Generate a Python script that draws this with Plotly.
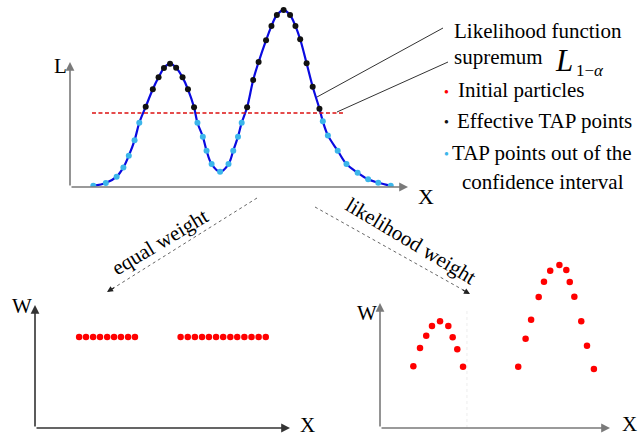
import plotly.graph_objects as go

W_PX, H_PX = 641, 439
FONT = "Liberation Serif"

# ---- likelihood curve samples (X, L) ----
tap_x = [0.69, 1.06, 1.38, 1.58, 1.74, 1.91, 2.05,
         2.24, 2.45, 2.62, 2.78, 2.96, 3.14, 3.33, 3.49, 3.67,
         3.77, 3.93, 4.04, 4.19, 4.44, 4.69, 4.83, 4.97, 5.08,
         5.24, 5.42, 5.58, 5.80, 5.96, 6.12, 6.32, 6.51, 6.67, 6.81, 7.00, 7.18, 7.38,
         7.48, 7.63, 7.92, 8.18, 8.51, 8.82, 9.12, 9.49]
tap_l = [0.007, 0.022, 0.058, 0.110, 0.176, 0.262, 0.361,
         0.451, 0.549, 0.616, 0.669, 0.693, 0.670, 0.616, 0.549, 0.448,
         0.361, 0.283, 0.204, 0.129, 0.086, 0.129, 0.204, 0.283, 0.361,
         0.448, 0.601, 0.702, 0.824, 0.904, 0.966, 0.994, 0.966, 0.904, 0.830, 0.695, 0.563, 0.440,
         0.369, 0.290, 0.204, 0.129, 0.080, 0.043, 0.024, 0.007]

# confidence threshold L_{1-alpha} and its drawn extent
l_sup = 0.416
sup_x = [0.65, 8.08]

# ---- equal-weight particles (X, W) ----
eq_x = [1.73, 2.00, 2.28, 2.55, 2.83, 3.10, 3.37, 3.65, 3.92,
        5.71, 5.99, 6.27, 6.55, 6.82, 7.10, 7.38, 7.66, 7.93, 8.21, 8.49, 8.77, 9.05]
eq_w = [0.74] * len(eq_x)

# ---- likelihood-weighted particles (X, W) ----
lw_x = [1.45, 1.74, 2.01, 2.26, 2.61, 2.97, 3.16, 3.36, 3.61,
        6.01, 6.33, 6.57, 6.90, 7.13, 7.40, 7.80, 8.10, 8.25, 8.45, 8.75, 9.00, 9.30]
lw_w = [0.494, 0.640, 0.738, 0.816, 0.854, 0.816, 0.726, 0.630, 0.490,
        0.490, 0.714, 0.866, 1.048, 1.170, 1.258, 1.304, 1.264, 1.168, 1.050, 0.854, 0.658, 0.472]

legend_labels = ["Initial particles", "Effective TAP points", "TAP points out of the"]

RED, BLACK, CYAN, BLUE = "#ff0000", "#111111", "#3cb6ea", "#0a0ae0"


def px(x):
    return x / W_PX


def py(y):
    return 1 - y / H_PX


eff_x = [x for x, l in zip(tap_x, tap_l) if l >= l_sup]
eff_l = [l for l in tap_l if l >= l_sup]
out_x = [x for x, l in zip(tap_x, tap_l) if l < l_sup]
out_l = [l for l in tap_l if l < l_sup]

fig = go.Figure()

# top panel: likelihood function
fig.add_trace(go.Scatter(x=tap_x, y=tap_l, mode="lines",
                         line=dict(color=BLUE, width=2.2, shape="spline", smoothing=1.0),
                         xaxis="x", yaxis="y", hoverinfo="skip"))
fig.add_trace(go.Scatter(x=sup_x, y=[l_sup, l_sup], mode="lines",
                         line=dict(color="#dd1111", width=1.6, dash="4px,2.5px"),
                         xaxis="x", yaxis="y", hoverinfo="skip"))
fig.add_trace(go.Scatter(x=out_x, y=out_l, mode="markers",
                         marker=dict(color=CYAN, size=6), xaxis="x", yaxis="y"))
fig.add_trace(go.Scatter(x=eff_x, y=eff_l, mode="markers",
                         marker=dict(color=BLACK, size=6), xaxis="x", yaxis="y"))

# faint guide in the likelihood-weight panel
fig.add_trace(go.Scatter(x=[3.78, 3.78], y=[0, 0.96], mode="lines",
                         line=dict(color="#ededed", width=1, dash="dot"),
                         xaxis="x3", yaxis="y3", hoverinfo="skip"))

# bottom panels: particle weights
fig.add_trace(go.Scatter(x=eq_x, y=eq_w, mode="markers",
                         marker=dict(color=RED, size=6.5), xaxis="x2", yaxis="y2"))
fig.add_trace(go.Scatter(x=lw_x, y=lw_w, mode="markers",
                         marker=dict(color=RED, size=6.5), xaxis="x3", yaxis="y3"))

hidden = dict(visible=False, showgrid=False, zeroline=False, fixedrange=True)
fig.update_layout(
    width=W_PX, height=H_PX,
    margin=dict(l=0, r=0, t=0, b=0, pad=0),
    paper_bgcolor="white", plot_bgcolor="rgba(0,0,0,0)",
    showlegend=False,
    xaxis=dict(domain=[px(70), px(420)], range=[0, 350 / 33.8], **hidden),
    yaxis=dict(domain=[py(187), py(5)], range=[0, 182 / 178], **hidden),
    xaxis2=dict(domain=[px(35), px(300)], range=[0, 265 / 25.5], **hidden),
    yaxis2=dict(domain=[py(428), py(300)], range=[0, 128 / 123], **hidden),
    xaxis3=dict(domain=[px(380), px(625)], range=[0, 245 / 23], **hidden),
    yaxis3=dict(domain=[py(428), py(255)], range=[0, 173 / 125], **hidden),
)

ann = []


def axis_arrow(xa, ya, x0, y0, x1, y1, color):
    ann.append(dict(x=x1, y=y1, ax=x0, ay=y0, xref=xa, yref=ya, axref=xa, ayref=ya,
                    text="", showarrow=True, arrowhead=2, arrowsize=1.1,
                    arrowwidth=1.6, arrowcolor=color))


axis_arrow("x", "y", 0, 0, 10, 0, "#7a7a7a")
axis_arrow("x", "y", 0, 0, 0, 0.702, "#7a7a7a")
axis_arrow("x2", "y2", 0, 0, 10, 0, "#333333")
axis_arrow("x2", "y2", 0, 0, 0, 1.0, "#333333")
axis_arrow("x3", "y3", 0, 0, 10, 0, "#7a7a7a")
axis_arrow("x3", "y3", 0, 0, 0, 1.0, "#7a7a7a")


def label(x, y, text, size=21, anchor="center", angle=0, color="black"):
    ann.append(dict(x=px(x), y=py(y), xref="paper", yref="paper", text=text,
                    showarrow=False, xanchor=anchor, yanchor="middle",
                    textangle=angle, font=dict(family=FONT, size=size, color=color)))


# axis names
label(60, 66, "L", 21)
label(426, 196, "X", 22)
label(22, 306, "W", 21)
label(307, 425, "X", 21)
label(367, 313, "W", 21)
label(629, 424, "X", 21)

# legend and callout text
label(452, 31, "Likelihood function", 21, "left")
label(452, 57, "supremum", 21, "left")
label(553, 61, "<i>L</i>", 31, "left")
label(574, 71, "1\u2212<i>\u03b1</i>", 17, "left")
label(456, 90, legend_labels[0], 21, "left")
label(455, 121, legend_labels[1], 21, "left")
label(450, 153, legend_labels[2], 21, "left")
label(543, 182, "confidence interval", 21, "center")
label(446, 91, "\u25cf", 8, color=RED)
label(446, 122, "\u25cf", 8, color=BLACK)
label(446, 153, "\u25cf", 8, color=CYAN)

# branch labels
label(160, 242, "equal weight", 21, angle=-31)
label(411, 241, "likelihood weight", 21, angle=31)

# branch arrows: dotted shafts with small heads
shapes = [
    dict(type="line", xref="paper", yref="paper", x0=px(257), y0=py(198), x1=px(112), y1=py(289),
         line=dict(color="#666666", width=1, dash="dot")),
    dict(type="line", xref="paper", yref="paper", x0=px(315), y0=py(207), x1=px(465), y1=py(291),
         line=dict(color="#666666", width=1, dash="dot")),
    # callout leaders
    dict(type="line", xref="paper", yref="paper", x0=px(317), y0=py(97), x1=px(443), y1=py(28),
         line=dict(color="#333333", width=1)),
    dict(type="line", xref="paper", yref="paper", x0=px(337), y0=py(112), x1=px(448), y1=py(62),
         line=dict(color="#333333", width=1)),
]
ann.append(dict(x=px(107), y=py(292), xref="paper", yref="paper", ax=8.5, ay=-5.3,
                text="", showarrow=True, arrowhead=2, arrowsize=1, arrowwidth=1.2,
                arrowcolor="#222222"))
ann.append(dict(x=px(470), y=py(294), xref="paper", yref="paper", ax=-8.7, ay=-4.9,
                text="", showarrow=True, arrowhead=2, arrowsize=1, arrowwidth=1.2,
                arrowcolor="#222222"))

fig.update_layout(annotations=ann, shapes=shapes)
fig.write_html("out.html")
